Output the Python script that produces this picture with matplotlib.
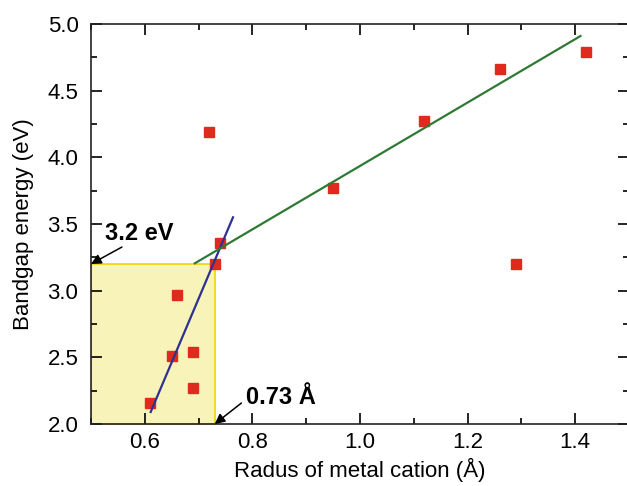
import matplotlib.pyplot as plt
from matplotlib.ticker import MultipleLocator

plt.rcParams['font.family'] = ['Liberation Sans', 'DejaVu Sans']

# cation radius (Å) and bandgap (eV)
radius = [0.61, 0.65, 0.66, 0.69, 0.69, 0.72, 0.73, 0.74, 0.95, 1.12, 1.26, 1.29, 1.42]
bandgap = [2.16, 2.51, 2.97, 2.54, 2.27, 4.19, 3.20, 3.36, 3.77, 4.27, 4.66, 3.20, 4.79]

# the two trend lines (end points)
steep_x = [0.611, 0.764]
steep_y = [2.09, 3.55]
flat_x = [0.693, 1.41]
flat_y = [3.205, 4.91]

# highlighted region
box_x = 0.73
box_y = 3.2

fig = plt.figure(figsize=(6.27, 4.86), dpi=100)
ax = fig.add_axes([0.1451, 0.1276, 1.003 - 0.1451, 0.9506 - 0.1276])

ax.fill_between([0.5, box_x], 2.0, box_y, facecolor='#f7f3b9', edgecolor='#f5d300',
                linewidth=1.2, zorder=1)
ax.plot(radius, bandgap, 's', color='#e02a1e', markersize=6.5, zorder=2)
ax.plot(steep_x, steep_y, color='#2e3192', linewidth=1.6, zorder=3)
ax.plot(flat_x, flat_y, color='#2e7a35', linewidth=1.6, zorder=3)

# labels with arrows pointing at the box corners
arrow = dict(arrowstyle='-|>', color='black', lw=1.1, shrinkA=0, shrinkB=0, mutation_scale=15)
ax.text(0.526, 3.43, '3.2 eV', fontsize=17, fontweight='bold', va='center', ha='left')
ax.annotate('', xy=(0.5, box_y), xytext=(0.5575, 3.327), arrowprops=arrow)
ax.text(0.7876, 2.2, '0.73 Å', fontsize=17, fontweight='bold', va='center', ha='left')
ax.annotate('', xy=(box_x, 2.0), xytext=(0.7796, 2.157), arrowprops=arrow)

ax.set_xlim(0.5, 1.5)
ax.set_ylim(2.0, 5.0)
ax.xaxis.set_major_locator(MultipleLocator(0.2))
ax.xaxis.set_minor_locator(MultipleLocator(0.1))
ax.yaxis.set_major_locator(MultipleLocator(0.5))
ax.yaxis.set_minor_locator(MultipleLocator(0.25))
ax.set_xticks([0.6, 0.8, 1.0, 1.2, 1.4])
ax.set_xticklabels(['0.6', '0.8', '1.0', '1.2', '1.4'])
ax.tick_params(which='both', direction='in', top=True, right=True, labelsize=16, width=1.2)
ax.tick_params(which='major', length=8)
ax.tick_params(which='minor', length=4)
ax.tick_params(axis='x', which='major', pad=6)
ax.tick_params(axis='y', which='major', pad=9)
for s in ax.spines.values():
    s.set_linewidth(1.2)
    s.set_color('#222222')

ax.set_xlabel('Radus of metal cation (Å)', fontsize=16, labelpad=3)
ax.set_ylabel('Bandgap energy (eV)', fontsize=16, labelpad=10)

fig.savefig('out.png', dpi=100)
